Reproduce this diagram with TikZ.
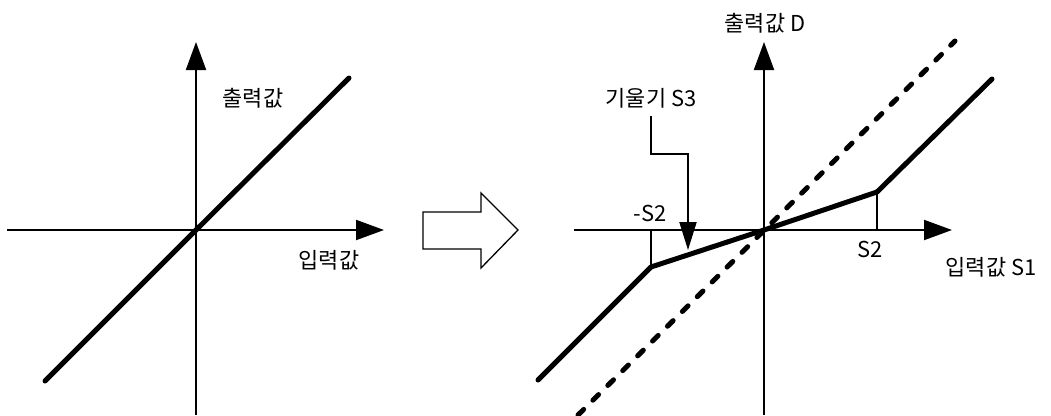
\documentclass[tikz,border=0pt]{standalone}
\usepackage{fontspec}
\setmainfont{Noto Sans CJK KR}
\usepackage{tikz}
\usetikzlibrary{positioning, arrows.meta}
\tikzset{
  axis/.style={
    line width=2bp,
    -{Triangle[length=28bp, width=20bp]}
  },
  curve/.style={line width=5bp, line cap=round, line join=round},
  refline/.style={curve, dash pattern=on 8bp off 13bp},
  tickln/.style={line width=1.2bp},
  callout/.style={
    line width=2bp,
    -{Triangle[length=28bp, width=17bp]}
  },
  lbl/.style={font=\fontsize{22}{25}\selectfont, inner sep=0pt},
  shiftarr/.style={line width=1.3bp, line join=miter},
}

\begin{document}
\begin{tikzpicture}[x=1bp, y=-1bp]
        \useasboundingbox (0,0) rectangle (1051,415);
        % left: before
        \coordinate (lo)  at (196,230);
        \coordinate (lxl) at (7,230);
        \coordinate (lxr) at (384,230);
        \coordinate (lyb) at (196,415);
        \coordinate (lyt) at (196,42);
        \coordinate (lda) at (45,381);
        \coordinate (ldb) at (349,78);
        \draw[axis] (lxl) -- (lxr);
        \draw[axis] (lyb) -- (lyt);
        \draw[curve] (lda) -- (lo) -- (ldb);
        \node[lbl] (lout) at (253,98)  {출력값};
        \node[lbl] (lin)  at (329,260) {입력값};
        % hollow arrow
        \draw[shiftarr] (423,212) -- (481,212) -- (481,193) -- (518,230)
          -- (481,268) -- (481,249) -- (423,249) -- cycle;
        % right: after
        \coordinate (ro)  at (764,230);
        \coordinate (rxl) at (574,230);
        \coordinate (rxr) at (952,230);
        \coordinate (ryb) at (764,415);
        \coordinate (ryt) at (764,42);
        \coordinate (pn)  at (651,267);
        \coordinate (pp)  at (877,192);
        \coordinate (qn)  at (651,230);
        \coordinate (qp)  at (877,230);
        \coordinate (sa)  at (538,380);
        \coordinate (sb)  at (992,79);
        \coordinate (da)  at (578,415);
        \coordinate (db)  at (955,41);
        \draw[axis] (rxl) -- (rxr);
        \draw[axis] (ryb) -- (ryt);
        \draw[tickln] (qn) -- (pn);
        \draw[tickln] (qp) -- (pp);
        \draw[refline] (da) -- (db);
        \draw[curve] (sa) -- (pn) -- (ro) -- (pp) -- (sb);
        \node[lbl] (rout) at (765,23)  {출력값 D};
        \node[lbl] (rin)  at (991,267) {입력값 S1};
        \node[lbl] (mneg) at (650,213) {-S2};
        \node[lbl] (mpos) at (870,249) {S2};
        \node[lbl] (slp)  at (651,98)  {기울기 S3};
        \coordinate (cst) at (651,116);
        \coordinate (cbd) at (688,154);
        \coordinate (ctp) at (688,250);
        \draw[callout] (cst) |- (cbd) -- (ctp);
      \end{tikzpicture}
\end{document}
